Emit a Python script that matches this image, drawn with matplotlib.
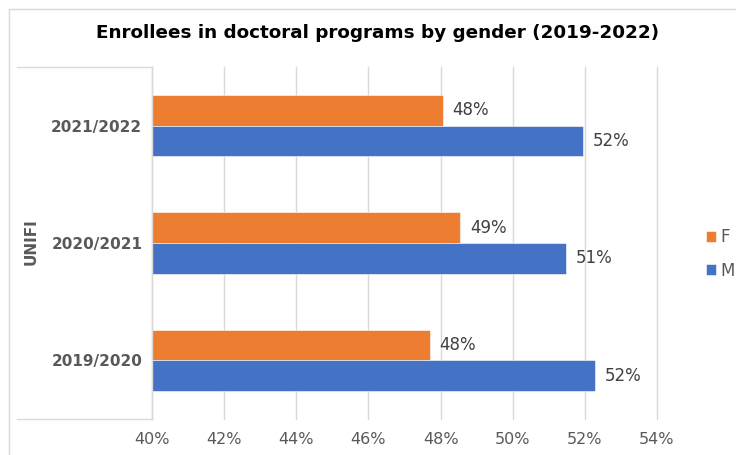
import matplotlib
matplotlib.use("Agg")
import matplotlib.pyplot as plt
from matplotlib.patches import Rectangle
from matplotlib.lines import Line2D
import numpy as np

categories = ["2019/2020", "2020/2021", "2021/2022"]
female = [47.7, 48.54, 48.06]
male = [52.28, 51.48, 51.96]
xticks = [40, 42, 44, 46, 48, 50, 52, 54]
female_labels = ["48%", "49%", "48%"]
male_labels = ["52%", "51%", "52%"]
group_label = "UNIFI"
title = "Enrollees in doctoral programs by gender (2019-2022)"

ORANGE = "#ED7D31"
BLUE = "#4472C4"
GRID = "#D9D9D9"
TXT = "#595959"

W, H = 736, 455
fig = plt.figure(figsize=(W / 100, H / 100), dpi=100)
plt.rcParams['font.family'] = ['DejaVu Sans']

def fx(px):
    return px / W

def fy(py):
    return 1 - py / H

ax_left, ax_right, ax_top, ax_bottom = 152, 657, 67, 419
ax = fig.add_axes([fx(ax_left), fy(ax_bottom), fx(ax_right - ax_left), (ax_bottom - ax_top) / H])

y = np.arange(len(categories))
bh = 0.26
ax.barh(y + bh / 2, np.array(female) - 40, left=40, height=bh, color=ORANGE, label="F",
        edgecolor="white", linewidth=0.4)
ax.barh(y - bh / 2, np.array(male) - 40, left=40, height=bh, color=BLUE, label="M",
        edgecolor="white", linewidth=0.4)

for i in range(len(categories)):
    ax.annotate(female_labels[i], (female[i], y[i] + bh / 2), xytext=(7, 0),
                textcoords="offset points", va="center", ha="left", fontsize=12, color="#404040")
    ax.annotate(male_labels[i], (male[i], y[i] - bh / 2), xytext=(7, 0),
                textcoords="offset points", va="center", ha="left", fontsize=12, color="#404040")

ax.set_xlim(40, 54)
ax.set_ylim(-0.5, 2.5)
ax.set_xticks(xticks)
ax.set_xticklabels([f"{t}%" for t in xticks], fontsize=11.5, color=TXT)
ax.set_yticks(y)
ax.set_yticklabels(categories, fontsize=11, fontweight="bold", color=TXT)
ax.tick_params(axis="both", length=0)
ax.tick_params(axis="x", pad=9)
ax.tick_params(axis="y", pad=7)
ax.grid(axis="x", color=GRID, linewidth=1)
for gl in ax.get_xgridlines():
    gl.set_clip_on(False)
ax.set_axisbelow(True)
for s in ["top", "right", "bottom"]:
    ax.spines[s].set_visible(False)
ax.spines["left"].set_color(GRID)
ax.spines["left"].set_linewidth(1)

# category group box
box_l = 17
fig.add_artist(Line2D([fx(box_l), fx(ax_left)], [fy(ax_top), fy(ax_top)], color=GRID, lw=1))
fig.add_artist(Line2D([fx(box_l), fx(ax_left)], [fy(ax_bottom), fy(ax_bottom)], color=GRID, lw=1))
fig.text(fx(31), fy(242), group_label, rotation=90, ha="center", va="center",
         fontsize=11, fontweight="bold", color=TXT)

# outer border
fig.add_artist(Rectangle((fx(9), fy(H + 5)), fx(W), (H + 5 - 9) / H, fill=False,
                         edgecolor=GRID, lw=1))

fig.text(fx(378), fy(33), title, ha="center", va="center", fontsize=13.2,
         fontweight="bold", color="black")

handles, labels = ax.get_legend_handles_labels()
leg = fig.legend(handles, labels, loc="center left", bbox_to_anchor=(fx(699), fy(254)),
                 frameon=False, fontsize=12, handlelength=0.6, handleheight=0.6,
                 handletextpad=0.3, labelspacing=0.9, borderaxespad=0)
for t in leg.get_texts():
    t.set_color(TXT)

fig.savefig("out.png", dpi=100)
